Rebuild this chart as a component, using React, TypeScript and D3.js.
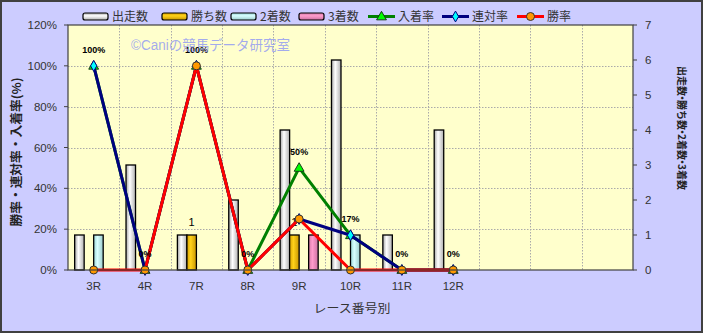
import React from "react";
import * as d3 from "d3";

// ---- data ----
const categories = ["3R", "4R", "7R", "8R", "9R", "10R", "11R", "12R", "", "", ""];
const runners = [1, 3, 1, 2, 4, 6, 1, 4];
const wins = [0, 0, 1, 0, 1, 0, 0, 0];
const seconds = [1, 0, 0, 0, 0, 1, 0, 0];
const thirds = [0, 0, 0, 0, 1, 0, 0, 0];
const placeRate = [100, 0, 100, 0, 50, 17, 0, 0];
const quinellaRate = [100, 0, 100, 0, 25, 17, 0, 0];
const winRate = [0, 0, 100, 0, 25, 0, 0, 0];
const leftTicks = [0, 20, 40, 60, 80, 100, 120];
const rightTicks = [0, 1, 2, 3, 4, 5, 6, 7];
const barNames = ["出走数", "勝ち数", "2着数", "3着数"];
const lineNames = ["入着率", "連対率", "勝率"];

// ---- layout / style ----
const W = 703, H = 333;
const PL = 68, PR = 633, PT = 25, PB = 270;
const FONT = "'Liberation Sans', Arial, 'Noto Sans CJK JP', sans-serif";
const JFONT = "'Noto Sans CJK JP', 'Liberation Sans', sans-serif";
const barGrad = [
  ["#a8a8a8", "#ffffff", "#b0b0b0"],
  ["#d9a400", "#ffd21a", "#c89600"],
  ["#9cd6d6", "#d8ffff", "#9ccccc"],
  ["#d77aa8", "#ff9ccc", "#cc70a0"],
];
const lineColors = ["#008000", "#000080", "#ff0000"];
const markerFills = ["#00ff00", "#00ffff", "#ff9900"];

export default function App() {
  const x = d3.scaleBand<number>().domain(d3.range(categories.length)).range([PL, PR]).padding(0);
  const bw = x.bandwidth();
  const xi = d3.scaleBand<number>().domain(d3.range(4)).range([0, bw]).paddingInner(0).paddingOuter(0.7);
  const yL = d3.scaleLinear().domain([0, 120]).range([PB, PT]);
  const yR = d3.scaleLinear().domain([0, 7]).range([PB, PT]);
  const barSeries = [runners, wins, seconds, thirds];
  const lineSeries = [placeRate, quinellaRate, winRate];
  const cx = (i: number) => (x(i) as number) + bw / 2;
  const line = d3
    .line<number>()
    .x((_, i) => cx(i))
    .y((d) => yL(d));

  const marker = (s: number, px: number, py: number, key: string) => {
    if (s === 0) {
      const p = d3.symbol(d3.symbolTriangle, 42)();
      return (
        <path key={key} d={p as string} transform={`translate(${px},${py + 0.5})`} fill={markerFills[0]} stroke="#1a3a1a" strokeWidth={1} />
      );
    }
    if (s === 1) {
      const p = d3.symbol(d3.symbolDiamond, 34)();
      return <path key={key} d={p as string} transform={`translate(${px},${py})`} fill={markerFills[1]} stroke="#000080" strokeWidth={1} />;
    }
    return <circle key={key} cx={px} cy={py} r={4} fill={markerFills[2]} stroke="#333" strokeWidth={1} />;
  };

  const legendBarX = [83, 162, 231, 299];
  const legendLineX = [368, 442, 517];

  return (
    <div style={{ position: "fixed", left: 0, top: 0 }}>
      <svg width={W} height={H} style={{ display: "block" }}>
        <defs>
          {barGrad.map((g, i) => (
            <linearGradient key={i} id={`bg${i}`} x1="0" x2="1" y1="0" y2="0">
              <stop offset="0" stopColor={g[0]} />
              <stop offset="0.4" stopColor={g[1]} />
              <stop offset="1" stopColor={g[2]} />
            </linearGradient>
          ))}
          {barGrad.map((g, i) => (
            <linearGradient key={"l" + i} id={`lg${i}`} x1="0" x2="0" y1="0" y2="1">
              <stop offset="0" stopColor={g[0]} />
              <stop offset="0.4" stopColor={g[1]} />
              <stop offset="1" stopColor={g[2]} />
            </linearGradient>
          ))}
        </defs>
        <rect x={1} y={1} width={W - 2} height={H - 2} fill="#ccccff" stroke="#404040" strokeWidth={2} />
        <rect x={PL} y={PT} width={PR - PL} height={PB - PT} fill="#ffffcc" />

        {/* grid */}
        {leftTicks.slice(1, -1).map((t) => (
          <line key={"h" + t} x1={PL} x2={PR} y1={Math.round(yL(t)) + 0.5} y2={Math.round(yL(t)) + 0.5} stroke="#aaaaaa" strokeDasharray="1.5,1.5" />
        ))}
        {d3.range(1, categories.length).map((i) => (
          <line key={"v" + i} x1={Math.round(x(i) as number) + 0.5} x2={Math.round(x(i) as number) + 0.5} y1={PT} y2={PB} stroke="#aaaaaa" strokeDasharray="1.5,1.5" />
        ))}

        {/* bars */}
        {barSeries.map((ser, s) =>
          ser.map((v, i) =>
            v > 0 ? (
              <rect
                key={`b${s}-${i}`}
                x={(x(i) as number) + (xi(s) as number)}
                y={yR(v)}
                width={xi.bandwidth()}
                height={PB - yR(v)}
                fill={`url(#bg${s})`}
                stroke="#000"
                strokeWidth={1.3}
              />
            ) : null
          )
        )}
        {/* win count labels */}
        {wins.map((v, i) =>
          v > 0 ? (
            <text key={"wl" + i} x={(x(i) as number) + (xi(1) as number) + xi.bandwidth() / 2} y={yR(v) - 9} textAnchor="middle" fontFamily={FONT} fontSize={11} fill="#000">
              {v}
            </text>
          ) : null
        )}

        {/* lines */}
        {lineSeries.map((ser, s) => (
          <g key={"ls" + s}>
            <path d={line(ser) as string} fill="none" stroke={lineColors[s]} strokeWidth={3} strokeLinejoin="round" />
            {ser.map((v, i) => marker(s, cx(i), yL(v), `m${s}-${i}`))}
          </g>
        ))}

        {/* place rate labels */}
        {placeRate.map((v, i) => (
          <text key={"pl" + i} x={cx(i)} y={yL(v) - 13} textAnchor="middle" fontFamily={FONT} fontSize={9} fontWeight="bold" fill="#000">
            {v}%
          </text>
        ))}

        {/* plot border */}
        <rect x={PL} y={PT} width={PR - PL} height={PB - PT} fill="none" stroke="#404040" strokeWidth={1.2} />

        {/* axes ticks */}
        {leftTicks.map((t) => (
          <g key={"lt" + t}>
            <line x1={PL - 4} x2={PL} y1={yL(t)} y2={yL(t)} stroke="#404040" />
            <text x={PL - 11} y={yL(t) + 4} textAnchor="end" fontFamily={FONT} fontSize={11.5} fill="#333">
              {t}%
            </text>
          </g>
        ))}
        {rightTicks.map((t) => (
          <g key={"rt" + t}>
            <line x1={PR} x2={PR + 4} y1={yR(t)} y2={yR(t)} stroke="#404040" />
            <text x={PR + 12} y={yR(t) + 4} textAnchor="start" fontFamily={FONT} fontSize={11.5} fill="#333">
              {t}
            </text>
          </g>
        ))}
        {categories.map((c, i) => (
          <text key={"xc" + i} x={cx(i)} y={290} textAnchor="middle" fontFamily={FONT} fontSize={11.5} fill="#333">
            {c}
          </text>
        ))}

        {/* axis titles */}
        <text x={352} y={313} textAnchor="middle" fontFamily={JFONT} fontSize={12} fill="#333" textLength={77} lengthAdjust="spacingAndGlyphs">
          レース番号別
        </text>
        <text transform={`translate(21,152) rotate(-90)`} textAnchor="middle" fontFamily={JFONT} fontSize={12} fontWeight="bold" fill="#222" textLength={149} lengthAdjust="spacingAndGlyphs">
          勝率・連対率・入着率(%)
        </text>
        <text transform={`translate(678,128) rotate(90)`} textAnchor="middle" fontFamily={JFONT} fontSize={10} fontWeight="bold" fill="#222">
          <tspan>出走数</tspan>
          <tspan dx={-3}>・</tspan>
          <tspan dx={-3}>勝ち数</tspan>
          <tspan dx={-3}>・</tspan>
          <tspan dx={-3}>2着数</tspan>
          <tspan dx={-3}>・</tspan>
          <tspan dx={-3}>3着数</tspan>
        </text>

        {/* legend */}
        {barNames.map((n, s) => (
          <g key={"lb" + s}>
            <rect x={legendBarX[s]} y={13} width={25} height={7} rx={2} fill={`url(#lg${s})`} stroke="#000" strokeWidth={1.2} />
            <text x={legendBarX[s] + 29} y={21} fontFamily={JFONT} fontSize={12} fill="#333">
              {n}
            </text>
          </g>
        ))}
        {lineNames.map((n, s) => (
          <g key={"ll" + s}>
            <line x1={legendLineX[s]} x2={legendLineX[s] + 27} y1={16.5} y2={16.5} stroke={lineColors[s]} strokeWidth={3} />
            {marker(s, legendLineX[s] + 13.5, 16.5, "lm" + s)}
            <text x={legendLineX[s] + 30} y={21} fontFamily={JFONT} fontSize={12} fill="#333">
              {n}
            </text>
          </g>
        ))}

        {/* watermark */}
        <text x={131} y={50} fontFamily={FONT} fontSize={14} fill="#939cf2" fillOpacity={0.85} textLength={159} lengthAdjust="spacingAndGlyphs">
          ©Caniの競馬データ研究室
        </text>
      </svg>
    </div>
  );
}
